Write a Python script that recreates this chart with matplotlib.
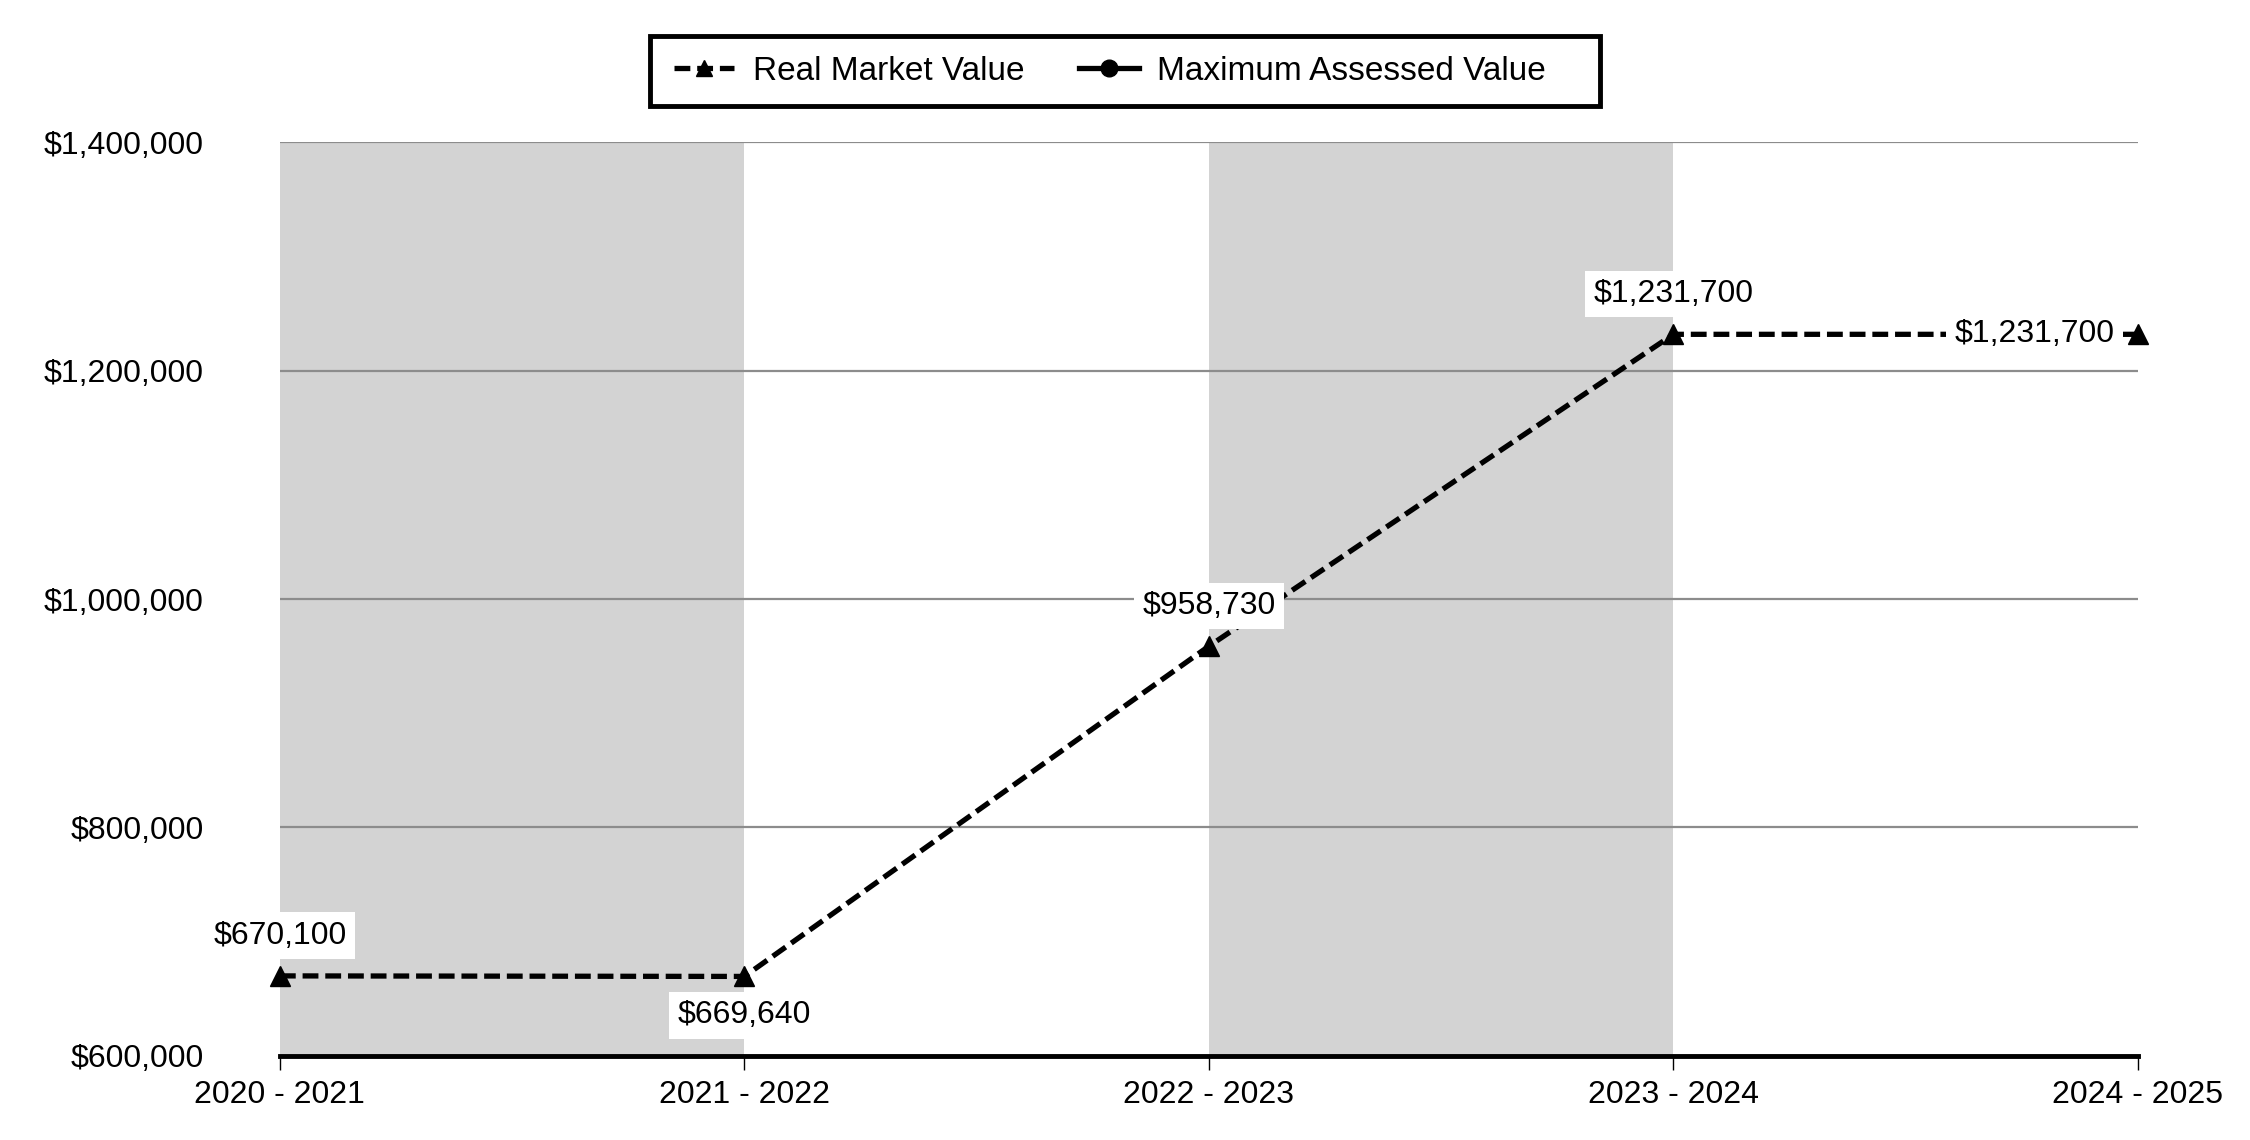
import matplotlib.pyplot as plt
from matplotlib.lines import Line2D
from matplotlib.patches import Rectangle
from matplotlib.ticker import FuncFormatter

plt.rcParams["font.family"] = ["Liberation Sans", "DejaVu Sans"]

years = ["2020 - 2021", "2021 - 2022", "2022 - 2023", "2023 - 2024", "2024 - 2025"]
real_market = [670100, 669640, 958730, 1231700, 1231700]
shaded = [(0, 1), (2, 3)]
y_ticks = [600000, 800000, 1000000, 1200000, 1400000]

# where each value label sits relative to its point
label_pos = ["above", "below", "above", "above", "left"]

fs = 23
dash = (0, (3, 1.3))


def main():
    fig = plt.figure(figsize=(22.5, 11.4), dpi=100)
    ax = fig.add_axes([0.1244, 0.0737, 0.8258, 0.8017])

    for a, b in shaded:
        ax.axvspan(a, b, color="#d3d3d3", lw=0, zorder=0)

    x = list(range(len(years)))
    ax.plot(x, real_market, c="black", ls=dash, lw=3.8,
            marker="^", ms=15, zorder=3, clip_on=False)

    for i, v in enumerate(real_market):
        txt = f"${v:,.0f}"
        box = dict(facecolor="white", edgecolor="none", pad=6)
        if label_pos[i] == "above":
            ax.annotate(txt, (i, v), xytext=(0, 29), textcoords="offset points",
                        ha="center", va="center", fontsize=fs, bbox=box, zorder=4)
        elif label_pos[i] == "below":
            ax.annotate(txt, (i, v), xytext=(0, -28), textcoords="offset points",
                        ha="center", va="center", fontsize=fs, bbox=box, zorder=4)
        else:
            ax.annotate(txt, (i, v), xytext=(-17, 0), textcoords="offset points",
                        ha="right", va="center", fontsize=fs, bbox=box, zorder=4)

    ax.set_xlim(0, len(years) - 1)
    ax.set_ylim(y_ticks[0], y_ticks[-1])
    ax.set_xticks(x)
    ax.set_xticklabels(years, fontsize=fs)
    ax.set_yticks(y_ticks)
    ax.yaxis.set_major_formatter(FuncFormatter(lambda v, p: f"${v:,.0f}"))
    ax.tick_params(axis="y", length=0, pad=55, labelsize=fs)
    ax.tick_params(axis="x", length=10, width=1, pad=7, labelsize=fs)

    ax.grid(axis="y", color="#8c8c8c", lw=1.6, zorder=1)
    ax.set_axisbelow(False)
    for s in ["top", "right", "left"]:
        ax.spines[s].set_visible(False)
    ax.spines["bottom"].set_linewidth(3.5)
    ax.spines["bottom"].set_zorder(5)

    # legend: entries without frame, box drawn separately (it has extra room on the right)
    handles = [
        Line2D([], [], c="black", ls=dash, lw=3.8, marker="^", ms=12),
        Line2D([], [], c="black", ls="-", lw=3.8, marker="o", ms=12),
    ]
    fig.legend(handles, ["Real Market Value", "Maximum Assessed Value"],
               loc="center left", bbox_to_anchor=(0.2997, 0.9377), ncol=2,
               fontsize=24, frameon=False, handlelength=1.8, handletextpad=0.55,
               columnspacing=1.64, borderpad=0, borderaxespad=0)
    fig.patches.append(Rectangle((0.2889, 0.9069), 0.4222, 0.0616, fill=False,
                                 ec="black", lw=3.5, transform=fig.transFigure))

    fig.savefig("out.png", dpi=100)


if __name__ == "__main__":
    main()
